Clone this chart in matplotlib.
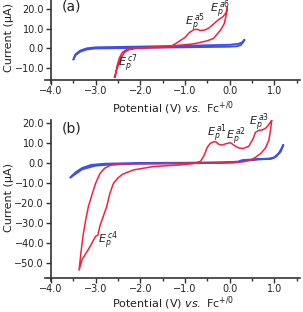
import numpy as np
import matplotlib.pyplot as plt

# panel (a) data, potential (V) and current (uA)
a_red_v = [-2.56, -2.52, -2.47, -2.40, -2.30, -2.10, -1.80, -1.50, -1.30, -1.20, -1.10, -1.00,
           -0.90, -0.80, -0.72, -0.65, -0.55, -0.45, -0.35, -0.25, -0.15, -0.08, -0.05,
           -0.07, -0.12, -0.20, -0.36, -0.50, -0.75, -0.90, -1.10, -1.40, -1.80, -2.10,
           -2.25, -2.35, -2.42, -2.48, -2.54, -2.58]
a_red_i = [-14.6, -9.0, -5.0, -2.0, -0.6, 0.0, 0.3, 0.5, 1.2, 2.5, 4.0, 5.5,
           8.0, 9.5, 9.6, 9.0, 9.3, 10.5, 12.5, 14.5, 16.0, 18.0, 20.8,
           17.5, 12.5, 9.3, 5.0, 3.8, 2.5, 2.0, 1.6, 1.0, 0.5, 0.1,
           -0.6, -2.0, -4.5, -8.0, -11.5, -14.6]
a_blue_v = [0.33, 0.30, 0.25, 0.15, 0.00, -1.0, -2.0, -3.0, -3.20, -3.35, -3.45, -3.50,
            -3.45, -3.35, -3.20, -3.00, -2.0, -1.0, 0.00, 0.20, 0.28, 0.33]
a_blue_i = [4.2, 3.0, 1.6, 1.0, 0.8, 0.5, 0.2, -0.1, -0.6, -1.8, -3.5, -5.8,
            -3.0, -1.2, 0.0, 0.5, 0.9, 1.3, 1.8, 2.3, 3.0, 4.2]

# panel (b) data
b_red_v = [0.94, 0.92, 0.88, 0.80, 0.70, 0.58, 0.47, 0.32, 0.10, -0.40, -1.0, -1.5, -2.15,
           -2.50, -2.67, -2.80, -2.90, -3.00, -3.10, -3.16, -3.22, -3.28, -3.33, -3.37,
           -3.30, -3.16, -3.05, -3.00, -2.95, -2.90, -2.82, -2.75, -2.68, -2.60, -2.50,
           -2.40, -2.15, -1.70, -1.10, -0.80, -0.65, -0.57, -0.50, -0.43, -0.35, -0.31,
           -0.24, -0.17, -0.08, 0.02, 0.10, 0.20, 0.30, 0.43, 0.52, 0.58, 0.65, 0.75,
           0.82, 0.88, 0.94]
b_red_i = [21.3, 17.0, 11.6, 7.5, 5.0, 3.0, 1.6, 0.8, 0.4, 0.1, 0.0, -0.1, -0.2,
           -0.5, -1.0, -2.5, -5.0, -10.0, -17.0, -21.5, -28.0, -36.0, -45.0, -53.4,
           -48.0, -43.0, -38.5, -36.5, -36.0, -31.0, -26.0, -21.5, -15.0, -10.0, -7.3,
           -5.5, -3.3, -1.6, -0.8, -0.1, 1.0, 4.0, 8.0, 10.0, 10.8, 10.8,
           9.5, 9.1, 9.8, 10.3, 9.0, 7.7, 7.4, 8.5, 12.0, 15.5, 16.4, 16.8,
           17.8, 19.5, 21.3]
b_blue_v = [1.20, 1.15, 1.05, 0.95, 0.50, 0.30, 0.20, 0.00, -1.0, -2.0, -2.6, -3.0, -3.3,
            -3.57, -3.45, -3.30, -3.10, -2.80, -2.0, -1.0, 0.00, 0.20, 0.28, 0.40, 0.90,
            1.00, 1.10, 1.20]
b_blue_i = [9.0, 6.0, 3.5, 2.3, 1.7, 1.2, 0.6, 0.3, 0.0, -0.2, -0.5, -1.2, -3.0,
            -7.2, -4.5, -2.3, -0.8, -0.2, 0.2, 0.3, 0.6, 0.9, 1.6, 1.8, 2.4,
            3.0, 5.0, 9.0]

red = '#f5213a'
blue = '#3d4fe6'
txt = '#222222'

fig = plt.figure(figsize=(3.03, 3.12), dpi=100)
ax_a = fig.add_axes([0.149, 0.7346, 0.8416, 0.2654])
ax_b = fig.add_axes([0.149, 0.1003, 0.8416, 0.5141])


def style(ax, ylo, yhi, ybot, yticks):
    ax.set_xlim(-4.13, 1.58)
    ax.set_ylim(ylo, yhi)
    for s in ['top', 'right']:
        ax.spines[s].set_visible(False)
    ax.spines['left'].set_position(('data', -4.0))
    ax.spines['bottom'].set_position(('data', ybot))
    for s in ['left', 'bottom']:
        ax.spines[s].set_color('#333333')
        ax.spines[s].set_linewidth(1.2)
    ax.set_xticks([-4, -3, -2, -1, 0, 1])
    ax.set_xticks(np.arange(-3.5, 1.6, 1.0), minor=True)
    ax.set_xticklabels(['\u22124.0', '\u22123.0', '\u22122.0', '\u22121.0', '0.0', '1.0'])
    ax.set_yticks(yticks)
    ax.set_yticklabels([('\u2212' if t < 0 else '') + '%.1f' % abs(t) for t in yticks])
    ax.tick_params(axis='both', which='major', direction='out', length=3.5, width=1.0,
                   colors='#333333', labelsize=7, labelcolor=txt, pad=1.5)
    ax.tick_params(axis='x', which='major', pad=1.0)
    ax.tick_params(axis='x', which='minor', direction='out', length=2.5, width=1.0,
                   colors='#333333')
    ax.set_ylabel('Current (\u00b5A)', fontsize=8, color=txt)
    ax.set_xlabel(r'Potential (V) $\mathit{vs.}$ Fc$^{+/0}$', fontsize=8, color=txt)


style(ax_a, -17.5, 24.5, -16.2, [-10, 0, 10, 20])
style(ax_b, -58.7, 21.5, -57.2, [-50, -40, -30, -20, -10, 0, 10, 20])

ax_a.plot(a_blue_v, a_blue_i, color=blue, lw=1.3)
ax_a.plot(a_red_v, a_red_i, color=red, lw=1.1)
ax_b.plot(b_blue_v, b_blue_i, color=blue, lw=1.3)
ax_b.plot(b_red_v, b_red_i, color=red, lw=1.1)

ax_a.yaxis.set_label_coords(-0.122, 0.55)
ax_b.yaxis.set_label_coords(-0.122, 0.52)
ax_a.xaxis.set_label_coords(0.5, -0.20)
ax_b.xaxis.set_label_coords(0.5, -0.088)

ax_a.text(-3.53, 21, '(a)', fontsize=10, color=txt, ha='center', va='center')
ax_b.text(-3.53, 17.6, '(b)', fontsize=10, color=txt, ha='center', va='center')

labels_a = [(-0.99, 12.8, 'a5'), (-0.43, 19.5, 'a6'), (-2.49, -8.0, 'c7')]
labels_b = [(-0.50, 14.6, 'a1'), (-0.09, 13.0, 'a2'), (0.43, 20.0, 'a3'), (-2.94, -39.0, 'c4')]
for ax, labs in [(ax_a, labels_a), (ax_b, labels_b)]:
    for x, y, s in labs:
        ax.text(x, y, r'$E_p^{\,%s}$' % r'\mathit{%s}' % s, fontsize=8, color=txt,
                ha='left', va='center')

fig.savefig('out.png', dpi=100)
